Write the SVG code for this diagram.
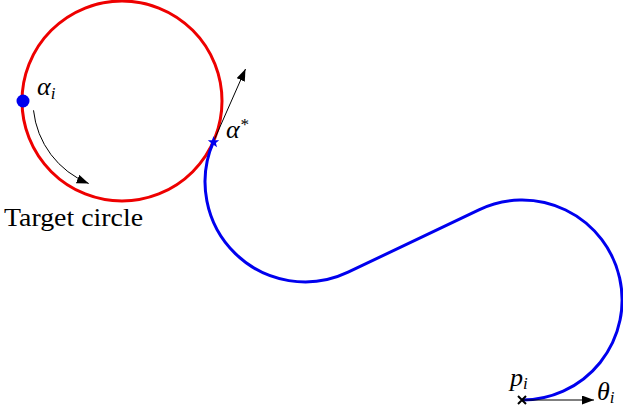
<svg xmlns="http://www.w3.org/2000/svg" width="623" height="408" viewBox="0 0 623 408">
<style>
.lbl{font-family:"Liberation Serif","Times New Roman",serif;font-style:italic;font-size:26px;fill:#000}
.txt{font-family:"Liberation Serif","Times New Roman",serif;font-size:25px;fill:#000}
.sub{font-size:17px}
.thin{fill:none;stroke:#000;stroke-width:1}
</style>
<defs>
<marker id="ah" markerUnits="userSpaceOnUse" markerWidth="14" markerHeight="10" refX="12" refY="4.5" orient="auto">
<path d="M0,0 L12,4.5 L0,9 z" fill="#000"/>
</marker>
</defs>
<g id="target-circle">
<circle cx="122" cy="101" r="100" fill="none" stroke="#ee0000" stroke-width="3"/>
<text class="txt" x="4" y="226" textLength="139" lengthAdjust="spacingAndGlyphs">Target circle</text>
</g>
<g id="path">
<path d="M522,400 A100,100 0 1 0 478.9,209.8 L348.1,272.2 A100,100 0 0 1 213.6,141.5" fill="none" stroke="#0000ee" stroke-width="3"/>
</g>
<g id="connectors">
<path class="thin" d="M33.5,110.3 A89,89 0 0 0 88.7,183.5" marker-end="url(#ah)"/>
<path class="thin" d="M213.5,141.5 L245.5,69" marker-end="url(#ah)"/>
<path class="thin" d="M522,400 L594,400" marker-end="url(#ah)"/>
</g>
<g id="alpha-i">
<circle cx="23" cy="101" r="6.5" fill="#0000ee"/>
<text class="lbl" x="37" y="95">α<tspan class="sub" dy="4">i</tspan></text>
</g>
<g id="alpha-star">
<path d="M213.5,136 L215,140.2 L219.2,140.3 L215.9,143 L217,147.2 L213.5,144.7 L210,147.2 L211.1,143 L207.8,140.3 L212,140.2 z" fill="#0000ee"/>
<text class="lbl" x="226" y="138">α<tspan class="sub" dy="-8">*</tspan></text>
</g>
<g id="p-i">
<path d="M518,396 L526,404 M526,396 L518,404" stroke="#000" stroke-width="2"/>
<text class="lbl" x="510" y="386">p<tspan class="sub" dy="3">i</tspan></text>
</g>
<g id="theta-i">
<text class="lbl" x="597" y="400">θ<tspan class="sub" dy="3">i</tspan></text>
</g>
</svg>
